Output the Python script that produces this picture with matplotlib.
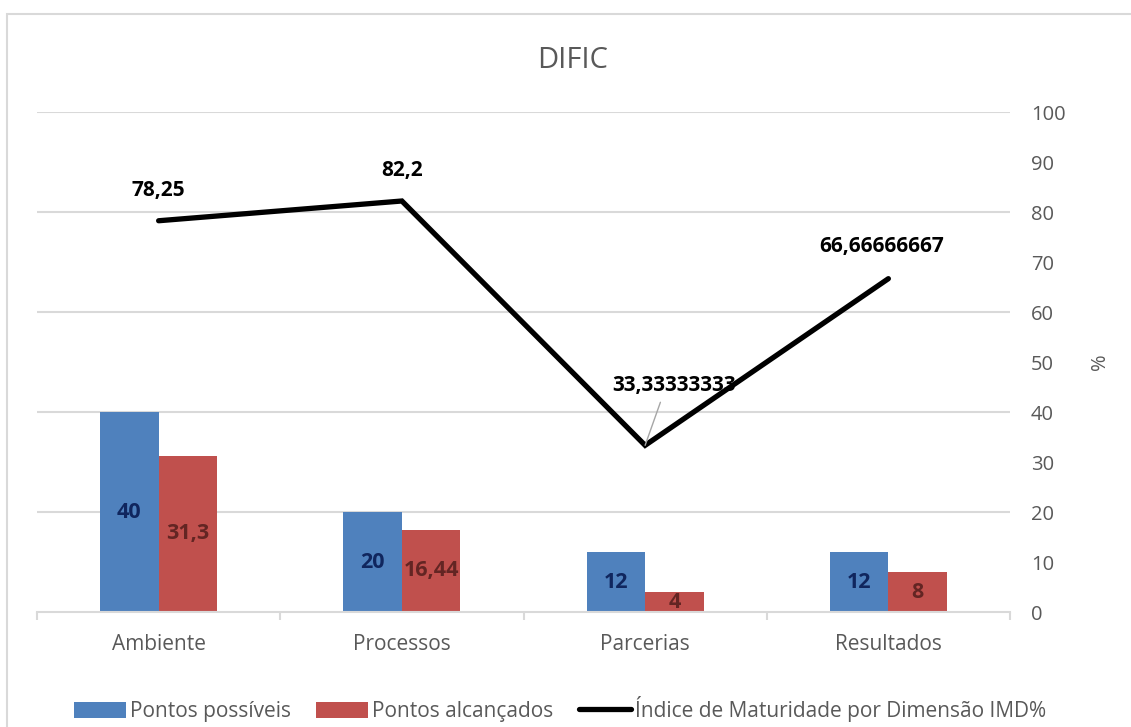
import numpy as np
import matplotlib.pyplot as plt
from matplotlib.patches import Rectangle

plt.rcParams['font.family'] = ['Open Sans', 'DejaVu Sans']

categorias = ['Ambiente', 'Processos', 'Parcerias', 'Resultados']
pontos_possiveis = [40, 20, 12, 12]
pontos_alcancados = [31.3, 16.44, 4, 8]
imd = [78.25, 82.2, 33.33333333, 66.66666667]

azul = '#4f81bd'
vermelho = '#c0504d'
cinza_txt = '#595959'
cinza_grid = '#d9d9d9'

def fmt(v):
    s = ('%.8f' % v).rstrip('0').rstrip('.')
    return s.replace('.', ',')

fig = plt.figure(figsize=(11.31, 7.27), dpi=100)
ax = fig.add_axes([37 / 1131, 1 - 612 / 727, (1010 - 37) / 1131, 500 / 727])

# borda do grafico
fig.patches.append(Rectangle((7 / 1131, -0.05), 1.2, 1 - 14 / 727 + 0.05,
                             transform=fig.transFigure, fill=False,
                             edgecolor=cinza_grid, lw=1.5))

x = np.arange(len(categorias))
w = 0.24
b1 = ax.bar(x - w / 2, pontos_possiveis, w, color=azul, zorder=2,
            label='Pontos possíveis')
b2 = ax.bar(x + w / 2, pontos_alcancados, w, color=vermelho, zorder=2,
            label='Pontos alcançados')
ln, = ax.plot(x, imd, color='black', lw=3.8, zorder=3,
              solid_capstyle='round', solid_joinstyle='miter',
              label='Índice de Maturidade por Dimensão IMD%')

for rect, v in zip(b1, pontos_possiveis):
    ax.text(rect.get_x() + rect.get_width() / 2, v / 2, fmt(v),
            ha='center', va='center', fontsize=15.5, fontweight='bold',
            color='#10265e', zorder=4)
for rect, v in zip(b2, pontos_alcancados):
    ax.text(rect.get_x() + rect.get_width() / 2, v / 2, fmt(v),
            ha='center', va='center', fontsize=15.5, fontweight='bold',
            color='#632523', zorder=4)

# rotulos da linha
offsets = [(0, 22), (0, 22), (21, 43), (-5, 23)]
for i, (v, off) in enumerate(zip(imd, offsets)):
    ax.annotate(fmt(v), (x[i], v), xytext=off, textcoords='offset points',
                ha='center', va='center', fontsize=15, fontweight='bold',
                color='black', zorder=5)
# linha de chamada do rotulo de Parcerias
ax.annotate('', (x[2], imd[2]), xytext=(11, 31), textcoords='offset points',
            arrowprops=dict(arrowstyle='-', color='#a6a6a6', lw=1,
                            shrinkA=0, shrinkB=0), zorder=4)

ax.set_xlim(-0.5, 3.5)
ax.set_ylim(0, 100)
ax.set_yticks(np.arange(0, 101, 10))
ax.yaxis.tick_right()
ax.yaxis.set_label_position('right')
ax.set_ylabel('%', fontsize=14.5, color=cinza_txt, labelpad=18)
ax.tick_params(axis='y', length=0, pad=15, labelsize=14.5, labelcolor=cinza_txt)
for yv in range(20, 101, 20):
    ax.axhline(yv, color=cinza_grid, lw=1.5, zorder=1)

ax.set_xticks(x)
ax.set_xticklabels(categorias)
ax.set_xticks(np.arange(-0.5, 4, 1), minor=True)
ax.tick_params(axis='x', which='major', length=0, pad=16, labelsize=15,
               labelcolor=cinza_txt)
ax.tick_params(axis='x', which='minor', length=6, width=1.5, color=cinza_grid)

for s in ['top', 'left', 'right']:
    ax.spines[s].set_visible(False)
ax.spines['bottom'].set_color(cinza_grid)
ax.spines['bottom'].set_linewidth(1.5)

fig.text(573 / 1131, 1 - 60 / 727, 'DIFIC', ha='center', va='center',
         fontsize=21, color=cinza_txt)

fig.legend(handles=[b1, b2, ln], loc='center', ncol=3,
           bbox_to_anchor=(560 / 1131, 1 - 709 / 727), frameon=False,
           fontsize=15, labelcolor=cinza_txt, handlelength=2.5,
           handleheight=0.8, handletextpad=0.2, columnspacing=1.2)

fig.savefig('out.png', dpi=100)
